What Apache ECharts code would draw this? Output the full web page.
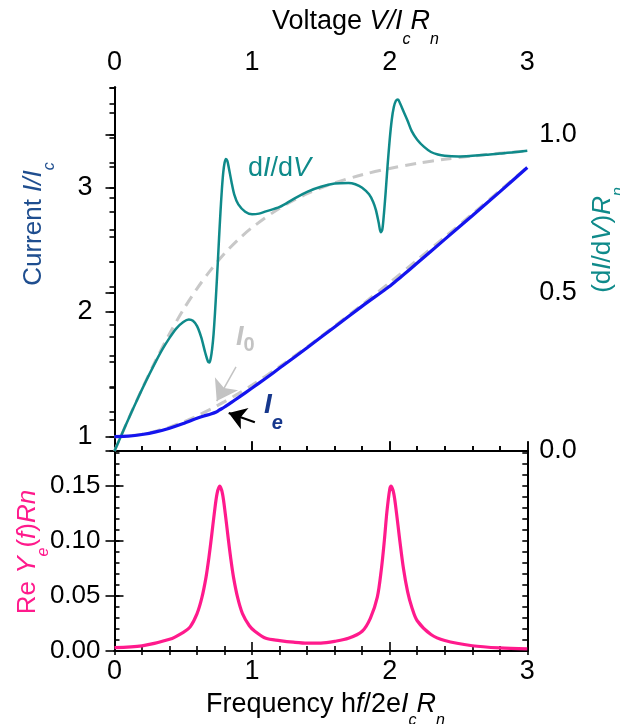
<!DOCTYPE html>
<html>
<head>
<meta charset="utf-8">
<script src="https://cdn.jsdelivr.net/npm/echarts@6/dist/echarts.min.js"></script>
<style>
  html, body { margin: 0; padding: 0; background: #fff; }
  #chart { width: 620px; height: 724px; }
</style>
</head>
<body>
<div id="chart"></div>
<script>
// ---- 数据 ----
// I_e 电流曲线（蓝）
const ieV = [0, 0.1, 0.2, 0.3, 0.4, 0.5, 0.6, 0.65, 0.7, 0.74, 0.76, 0.8, 0.85, 0.9, 1.0, 1.1, 1.2, 1.4, 1.6, 1.8, 1.9, 1.95, 2.0, 2.05, 2.1, 2.2, 2.4, 2.6, 2.8, 3.0];
const ieI = [1.0, 1.004, 1.017, 1.038, 1.068, 1.105, 1.148, 1.166, 1.182, 1.198, 1.212, 1.238, 1.275, 1.313, 1.39, 1.468, 1.55, 1.713, 1.88, 2.047, 2.127, 2.166, 2.206, 2.252, 2.298, 2.392, 2.582, 2.772, 2.963, 3.158];

// I_0 参考曲线（灰虚线，左轴）
const i0V = [0, 0.1, 0.2, 0.3, 0.4, 0.5, 0.6, 0.7, 0.8, 0.9, 1.0, 1.2, 1.4, 1.6, 1.8, 2.0, 2.2, 2.4, 2.6, 2.8, 3.0];
const i0I = [1.0, 1.005, 1.02, 1.044, 1.077, 1.118, 1.166, 1.221, 1.281, 1.345, 1.414, 1.562, 1.72, 1.887, 2.059, 2.236, 2.417, 2.6, 2.786, 2.973, 3.162];

// dI/dV（青色，右轴）
const gV = [0, 0.05, 0.1, 0.15, 0.2, 0.25, 0.3, 0.35, 0.4, 0.45, 0.5, 0.54, 0.57, 0.6, 0.63, 0.66, 0.68, 0.69, 0.70, 0.71, 0.72, 0.73, 0.74, 0.75, 0.76, 0.77, 0.78, 0.79, 0.80, 0.81, 0.82, 0.83, 0.85, 0.87, 0.9, 0.95, 1.0, 1.05, 1.1, 1.2, 1.3, 1.4, 1.5, 1.6, 1.7, 1.75, 1.8, 1.85, 1.88, 1.9, 1.92, 1.935, 1.945, 1.955, 1.97, 1.985, 2.0, 2.015, 2.03, 2.045, 2.06, 2.075, 2.1, 2.13, 2.16, 2.2, 2.25, 2.3, 2.35, 2.4, 2.5, 2.6, 2.7, 2.8, 2.9, 3.0];
const gVal = [0, 0.05, 0.1, 0.148, 0.195, 0.24, 0.283, 0.323, 0.358, 0.388, 0.408, 0.416, 0.412, 0.395, 0.36, 0.31, 0.282, 0.28, 0.295, 0.325, 0.37, 0.435, 0.51, 0.59, 0.675, 0.755, 0.825, 0.88, 0.912, 0.924, 0.918, 0.898, 0.852, 0.812, 0.78, 0.757, 0.749, 0.751, 0.758, 0.772, 0.797, 0.82, 0.836, 0.846, 0.848, 0.844, 0.833, 0.812, 0.788, 0.762, 0.722, 0.692, 0.698, 0.735, 0.815, 0.905, 0.985, 1.048, 1.088, 1.108, 1.112, 1.1, 1.075, 1.045, 1.012, 0.985, 0.962, 0.946, 0.938, 0.934, 0.932, 0.934, 0.937, 0.941, 0.945, 0.95];

// dI/dV 参考（灰虚线，右轴）
const g0V = [0, 0.1, 0.2, 0.3, 0.4, 0.5, 0.6, 0.7, 0.8, 0.9, 1.0, 1.2, 1.4, 1.6, 1.8, 2.0, 2.2, 2.4, 2.6, 2.8, 3.0];
const g0Val = [0, 0.1, 0.196, 0.287, 0.371, 0.447, 0.514, 0.573, 0.625, 0.669, 0.707, 0.768, 0.814, 0.848, 0.874, 0.894, 0.91, 0.923, 0.933, 0.942, 0.949];

// Re Y_e(f) R_n（粉色，下图）
const fV = [0, 0.2, 0.4, 0.5, 0.55, 0.6, 0.635, 0.665, 0.685, 0.705, 0.725, 0.745, 0.765, 0.785, 0.805, 0.825, 0.845, 0.865, 0.895, 0.93, 0.98, 1.02, 1.1, 1.2, 1.3, 1.4, 1.5, 1.6, 1.7, 1.8, 1.86, 1.91, 1.94, 1.96, 1.98, 2.0, 2.01, 2.03, 2.05, 2.07, 2.1, 2.13, 2.16, 2.2, 2.3, 2.4, 2.6, 2.8, 3.0];
const reY = [0.003, 0.0047, 0.0106, 0.017, 0.022, 0.034, 0.0485, 0.067, 0.084, 0.104, 0.125, 0.143, 0.150, 0.143, 0.125, 0.104, 0.084, 0.067, 0.0485, 0.034, 0.023, 0.018, 0.0115, 0.0095, 0.008, 0.0071, 0.0072, 0.0088, 0.0115, 0.018, 0.03, 0.049, 0.075, 0.099, 0.127, 0.147, 0.150, 0.143, 0.125, 0.104, 0.075, 0.054, 0.040, 0.0275, 0.015, 0.0095, 0.0048, 0.0028, 0.002];

// 箭头（左轴数据坐标：起点 -> 终点）
const arrowI0 = [[0.883, 1.56], [0.743, 1.285]];
const arrowIe = [[1.02, 1.115], [0.83, 1.19]];

// 刻度
const currentTicks = [1, 2, 3];
const condTicks = [0, 0.5, 1.0];
const yeTicks = [0, 0.05, 0.10, 0.15];

// ---- 样式 ----
const FONT = "'Liberation Sans', Arial, Helvetica, sans-serif";
const C_BLUE = '#1414ee';
const C_TEAL = '#0f8a8a';
const C_PINK = '#ff1a8c';
const C_GRAY = '#c8c8c8';
const C_NAVY = '#1f4e8f';

// 面板几何
const PX = 114.5, PW = 412.8;
const TOP0 = 87.5, MID = 451, BOT = 651;
const ONE_Y = 436.7;   // 左轴 I=1 的像素位置

const zip = (xs, ys) => xs.map((x, i) => [x, ys[i]]);

const lineBlack = { color: '#000', width: 2 };
const tickStyle = { color: '#000', width: 1.6 };

function xAxisDef(grid, pos, opts) {
  return Object.assign({
    type: 'value', gridIndex: grid, position: pos, min: 0, max: 3, interval: 1,
    axisLine: { show: true, lineStyle: lineBlack },
    axisTick: { show: true, inside: true, length: 9, lineStyle: tickStyle },
    minorTick: { show: true, splitNumber: 5, length: 5, lineStyle: tickStyle },
    axisLabel: { show: false },
    splitLine: { show: false }, minorSplitLine: { show: false }
  }, opts);
}

function hiddenX(grid) {
  return { type: 'value', gridIndex: grid, min: 0, max: 3, show: false };
}

function yMajor(grid, pos, min, max, ticks, inside, label) {
  return {
    type: 'value', gridIndex: grid, position: pos, min: min, max: max,
    axisLine: { show: true, lineStyle: lineBlack },
    axisTick: { show: true, inside: inside, length: 9, customValues: ticks, lineStyle: tickStyle },
    axisLabel: label ? Object.assign({ customValues: ticks, color: '#000', fontFamily: FONT, fontSize: 27 }, label) : { show: false },
    splitLine: { show: false }
  };
}

// 小刻度：独立网格，min 为步长的整数倍
function yMinor(grid, pos, min, max, step, inside) {
  return {
    type: 'value', gridIndex: grid, position: pos, min: min, max: max, interval: step,
    axisLine: { show: true, lineStyle: lineBlack },
    axisTick: { show: true, inside: inside, length: 5, lineStyle: tickStyle },
    axisLabel: { show: false },
    splitLine: { show: false }
  };
}

// 富文本（下标）
function mkRich(size, color, sub, drop) {
  const L = size + 4;
  const base = { fontFamily: FONT, fontSize: size, lineHeight: L, fill: color, verticalAlign: 'top' };
  return {
    a: base,
    i: Object.assign({}, base, { fontStyle: 'italic' }),
    s: { fontFamily: FONT, fontSize: sub, lineHeight: sub, fill: color, fontStyle: 'italic',
         verticalAlign: 'top', padding: [L / 2 + drop - sub / 2, 0, 0, 0] }
  };
}

function label(text, x, y, rich) {
  return {
    type: 'text', x: x, y: y, silent: true, z: 20,
    style: { text: text, rich: rich, align: 'left', verticalAlign: 'top' }
  };
}

function vlabel(text, x, y, rich) {
  return {
    type: 'text', x: x, y: y, rotation: Math.PI / 2, silent: true, z: 20,
    style: { text: text, rich: rich, align: 'center', verticalAlign: 'top' }
  };
}

const chart = echarts.init(document.getElementById('chart'));

chart.setOption({
  animation: false,
  backgroundColor: '#fff',
  grid: [
    { left: PX, top: TOP0, width: PW, height: MID - TOP0, outerBoundsMode: 'none' },
    { left: PX, top: MID, width: PW, height: BOT - MID, outerBoundsMode: 'none' },
    { left: PX, top: TOP0, width: PW, height: ONE_Y - TOP0, outerBoundsMode: 'none' },
    { left: PX, top: TOP0, width: PW, height: MID - TOP0, outerBoundsMode: 'none' },
    { left: PX, top: MID, width: PW, height: BOT - MID, outerBoundsMode: 'none' }
  ],
  xAxis: [
    xAxisDef(0, 'top', {
      axisTick: { show: true, inside: false, length: 10, lineStyle: tickStyle },
      axisLabel: { show: true, color: '#000', fontFamily: FONT, fontSize: 27, margin: 11 }
    }),
    xAxisDef(0, 'bottom', {}),
    xAxisDef(1, 'bottom', {
      axisLabel: { show: true, color: '#000', fontFamily: FONT, fontSize: 27, margin: 7 }
    }),
    xAxisDef(1, 'top', {
      axisTick: { show: true, inside: true, length: 4, lineStyle: tickStyle },
      minorTick: { show: true, splitNumber: 5, length: 4, lineStyle: tickStyle }
    }),
    hiddenX(2), hiddenX(3), hiddenX(4)
  ],
  yAxis: [
    yMajor(0, 'left', 0.885, 3.8, currentTicks, false, { margin: 22 }),
    yMajor(0, 'right', 0, 1.15, condTicks, true, { margin: 12, formatter: v => v.toFixed(1) }),
    yMajor(1, 'left', 0, 0.182, yeTicks, true, { margin: 14, fontSize: 26, formatter: v => v.toFixed(2) }),
    yMajor(1, 'right', 0, 0.182, yeTicks, true, null),
    yMinor(2, 'left', 1, 3.8, 0.2, false),
    yMinor(3, 'right', 0, 1.15, 0.1, true),
    yMinor(4, 'left', 0, 0.182, 0.01, true),
    yMinor(4, 'right', 0, 0.182, 0.01, true)
  ],
  series: [
    {
      name: 'I0', type: 'line', xAxisIndex: 0, yAxisIndex: 0, data: zip(i0V, i0I),
      smooth: 0.3, showSymbol: false, silent: true, z: 2,
      lineStyle: { color: C_GRAY, width: 3, type: [11, 7] }
    },
    {
      name: 'g0', type: 'line', xAxisIndex: 0, yAxisIndex: 1, data: zip(g0V, g0Val),
      smooth: 0.3, showSymbol: false, silent: true, z: 2,
      lineStyle: { color: C_GRAY, width: 3, type: [11, 7] }
    },
    {
      name: 'dI/dV', type: 'line', xAxisIndex: 0, yAxisIndex: 1, data: zip(gV, gVal),
      smooth: 0.3, showSymbol: false, silent: true, z: 3,
      lineStyle: { color: C_TEAL, width: 2.5 }
    },
    {
      name: 'Ie', type: 'line', xAxisIndex: 0, yAxisIndex: 0, data: zip(ieV, ieI),
      smooth: 0.2, showSymbol: false, silent: true, z: 4,
      lineStyle: { color: C_BLUE, width: 3.2 }
    },
    {
      name: 'ReY', type: 'line', xAxisIndex: 2, yAxisIndex: 2, data: zip(fV, reY),
      smooth: 0.3, showSymbol: false, silent: true, z: 3,
      lineStyle: { color: C_PINK, width: 3.2 }
    },
    {
      type: 'lines', coordinateSystem: 'cartesian2d', xAxisIndex: 0, yAxisIndex: 0,
      symbol: ['none', 'arrow'], symbolSize: [13, 20], silent: true, z: 6,
      lineStyle: { color: '#c3c3c3', width: 1.5, opacity: 1 },
      data: [{ coords: arrowI0 }]
    },
    {
      type: 'lines', coordinateSystem: 'cartesian2d', xAxisIndex: 0, yAxisIndex: 0,
      symbol: ['none', 'arrow'], symbolSize: [12, 17], silent: true, z: 6,
      lineStyle: { color: '#000', width: 2.2, opacity: 1 },
      data: [{ coords: arrowIe }]
    }
  ],
  graphic: [
    // 轴标题
    label('{a|Voltage }{i|V/I}{s|c}{i|R}{s|n}', 272, 8, mkRich(27, '#000', 16, 16)),
    label('{a|Frequency h}{i|f}{a|/2e}{i|I}{s|c}{i|R}{s|n}', 206, 691, mkRich(27, '#000', 16, 14)),
    vlabel('{a|Current }{i|I/I}{s|c}', 21, 224, mkRich(26, C_NAVY, 16, 14)),
    vlabel('{a|(d}{i|I}{a|/d}{i|V}{a|)}{i|R}{s|n}', 590, 240, mkRich(26, C_TEAL, 16, 14)),
    vlabel('{a|Re }{i|Y}{s|e}{a|(}{i|f}{a|)}{i|R}{i|n}', 15, 552, mkRich(26, C_PINK, 16, 14)),
    // 曲线标注
    label('{a|d}{i|I}{a|/d}{i|V}', 248, 155, mkRich(27, C_TEAL, 16, 14)),
    label('{b|I}{s|0}', 236, 324, {
      b: { fontFamily: FONT, fontSize: 27, lineHeight: 30, fill: '#c3c3c3', fontStyle: 'italic', fontWeight: 'bold', verticalAlign: 'top' },
      s: { fontFamily: FONT, fontSize: 20, lineHeight: 20, fill: '#c3c3c3', fontWeight: 'bold', verticalAlign: 'top', padding: [11, 0, 0, 0] }
    }),
    label('{b|I}{s|e}', 264, 391, {
      b: { fontFamily: FONT, fontSize: 28, lineHeight: 30, fill: '#16378c', fontStyle: 'italic', fontWeight: 'bold', verticalAlign: 'top' },
      s: { fontFamily: FONT, fontSize: 20, lineHeight: 20, fill: '#16378c', fontStyle: 'italic', fontWeight: 'bold', verticalAlign: 'top', padding: [22, 0, 0, 0] }
    })
  ]
});
</script>
</body>
</html>
